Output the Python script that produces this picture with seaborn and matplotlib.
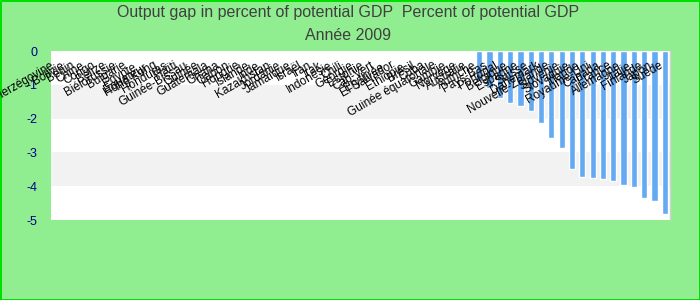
import matplotlib
matplotlib.use("Agg")
import matplotlib.pyplot as plt
import seaborn as sns
import pandas as pd

countries = [
    "Bosnie-Herzégovine", "Bolivie", "Bénin", "Chine", "Congo", "Bélize",
    "Biélorussie", "Bulgarie", "Égypte", "Équateur", "Hong Kong", "Honduras",
    "Haïti", "Guinée-Bissau", "Guinée", "Guatemala", "Ghana", "Gabon",
    "Hongrie", "Islande", "Inde", "Kazakhstan", "Jordanie", "Jamaïque",
    "Israël", "Iran", "Irak", "Indonésie", "Chili", "Géorgie",
    "Estonie", "Cap-Vert", "Érythrée", "El Salvador", "Éthiopie", "Brésil",
    "Cuba", "Guinée équatoriale", "Gambie", "Norvège", "Australie",
    "Autriche", "Pays-Bas", "Portugal", "Belgique", "Espagne", "Suisse",
    "Danemark", "Nouvelle-Zélande", "Slovénie", "Slovaquie", "Irlande",
    "Royaume-Uni", "Canada", "France", "Allemagne", "Italie", "Finlande",
    "Japon", "Suède",
]
values = [0.0] * 41 + [
    -0.9, -1.1, -1.4, -1.55, -1.63, -1.77, -2.12, -2.56, -2.86, -3.50,
    -3.72, -3.75, -3.78, -3.84, -3.96, -4.01, -4.34, -4.43, -4.81,
]
yticks = [0, -1, -2, -3, -4, -5]
title_line1 = "Output gap in percent of potential GDP  Percent of potential GDP"
title_line2 = "Année 2009"

df = pd.DataFrame({"pays": countries, "gap": values})

sns.set_theme(style="white")
plt.rcParams["font.family"] = ["Liberation Sans", "DejaVu Sans"]

fig = plt.figure(figsize=(7, 3), dpi=100)
fig.patch.set_facecolor("#90EE90")
fig.patch.set_edgecolor("#00E000")
fig.patch.set_linewidth(2)

ax = fig.add_axes([51 / 700, 1 - 220 / 300, 619 / 700, 169 / 300])
ax.set_facecolor("white")
ax.set_axisbelow(False)

for lo, hi in [(-2, -1), (-4, -3)]:
    ax.axhspan(lo, hi, color="#F2F2F2", zorder=0, lw=0)

sns.barplot(data=df, x="pays", y="gap", color="#63AAF2", width=0.6,
            saturation=1, ax=ax, zorder=2)

ax.set_xlim(-0.5, len(countries) - 0.5)
ax.set_ylim(-5, 0)
ax.set_yticks(yticks)
ax.set_yticklabels([str(v) for v in yticks], color="#00008B", fontsize=9)
ax.set_xlabel("")
ax.set_ylabel("")

ax.spines["bottom"].set_position(("data", 0))
ax.spines["bottom"].set_visible(False)
ax.spines["top"].set_visible(False)
ax.spines["left"].set_visible(False)
ax.spines["right"].set_color("#D0D0D0")
ax.spines["right"].set_linewidth(1)

ax.tick_params(axis="x", length=0, pad=6)
ax.tick_params(axis="y", length=0, pad=10)
ax.set_xticks(range(len(countries)))
ax.set_xticklabels(countries, rotation=30, ha="right", va="top",
                   fontsize=8.5, color="black")
ax.xaxis.set_zorder(5)

fig.text(0.497, 1 - 13 / 300, title_line1, ha="center", va="center",
         fontsize=11.5, color="#404040")
fig.text(0.497, 1 - 36 / 300, title_line2, ha="center", va="center",
         fontsize=11.5, color="#404040")

fig.savefig("out.png", dpi=100, facecolor=fig.get_facecolor(),
            edgecolor=fig.get_edgecolor())
